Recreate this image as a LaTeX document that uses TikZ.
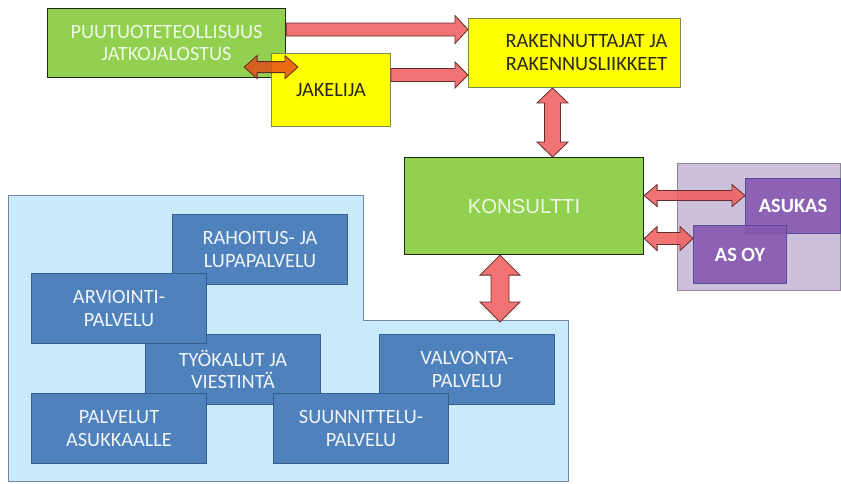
\documentclass[tikz,border=0pt]{standalone}
\usepackage{fontspec}
\setmainfont{Carlito}
\newfontfamily\arialfont{Liberation Sans}
\usetikzlibrary{calc}

\definecolor{leafgreen}{RGB}{146,208,80}
\definecolor{leafedge}{RGB}{30,40,20}
\definecolor{lemon}{RGB}{255,255,0}
\definecolor{lemonedge}{RGB}{120,140,80}
\definecolor{skyfill}{RGB}{200,234,250}
\definecolor{skyedge}{RGB}{120,135,150}
\definecolor{tileblue}{RGB}{79,129,189}
\definecolor{tileedge}{RGB}{56,93,138}
\definecolor{lilac}{RGB}{204,192,218}
\definecolor{lilacedge}{RGB}{140,135,150}
\definecolor{plum}{RGB}{135,88,178}
\definecolor{plumedge}{RGB}{90,75,150}
\definecolor{coral}{RGB}{240,96,96}
\definecolor{coraledge}{RGB}{100,45,45}
\definecolor{ember}{RGB}{230,70,20}
\definecolor{paletext}{RGB}{240,248,232}
\definecolor{darktext}{RGB}{40,40,20}

\newcommand\labelsize{\fontsize{20.3}{22.8}\selectfont}

% single fat arrow pointing right: style, from, to, shaft half, head half, head length
\newcommand\arrowR[6]{%
  \draw[#1] let \p1=#2, \p2=#3 in
    (\x1,\y1+#4) -- (\x2-#6,\y1+#4) -- (\x2-#6,\y1+#5) -- (\x2,\y1)
    -- (\x2-#6,\y1-#5) -- (\x2-#6,\y1-#4) -- (\x1,\y1-#4) -- cycle;}
% double fat arrow, horizontal: style, left end, right end, shaft half, head half, head length
\newcommand\arrowLR[6]{%
  \draw[#1] let \p1=#2, \p2=#3 in
    (\x1,\y1) -- (\x1+#6,\y1+#5) -- (\x1+#6,\y1+#4) -- (\x2-#6,\y1+#4)
    -- (\x2-#6,\y1+#5) -- (\x2,\y1) -- (\x2-#6,\y1-#5) -- (\x2-#6,\y1-#4)
    -- (\x1+#6,\y1-#4) -- (\x1+#6,\y1-#5) -- cycle;}
% double fat arrow, vertical: style, upper end, lower end (gives x), shaft half, head half, head length
\newcommand\arrowUD[6]{%
  \draw[#1] let \p1=#2, \p2=#3 in
    (\x2,\y1) -- (\x2+#5,\y1-#6) -- (\x2+#4,\y1-#6) -- (\x2+#4,\y2+#6)
    -- (\x2+#5,\y2+#6) -- (\x2,\y2) -- (\x2-#5,\y2+#6) -- (\x2-#4,\y2+#6)
    -- (\x2-#4,\y1-#6) -- (\x2-#5,\y1-#6) -- cycle;}

\tikzset{
  box/.style={anchor=north west, inner sep=0pt, align=center, font=\labelsize},
  greenbox/.style={box, fill=leafgreen, draw=leafedge, line width=1.1pt, text=paletext},
  yellowbox/.style={box, fill=lemon, draw=lemonedge, line width=0.9pt, text=darktext},
  tile/.style={box, fill=tileblue, draw=tileedge, line width=1pt, text=white!92!tileblue,
    minimum width=175pt, minimum height=70pt},
  plumbox/.style={box, fill=plum, fill opacity=0.9, text opacity=1, draw=plumedge,
    line width=1pt, text=white, font=\labelsize\bfseries},
  fatarrow/.style={fill=coral, fill opacity=0.88, draw=coraledge, line width=0.8pt, line join=miter},
  emberarrow/.style={fill=ember, fill opacity=0.8, draw=coraledge, line width=0.8pt, line join=miter},
}

\begin{document}
\begin{tikzpicture}[x=1pt,y=-1pt]
\useasboundingbox (0,0) rectangle (841,483);

% service area panel
\draw[fill=skyfill, draw=skyedge, line width=1pt]
  (8,195) -- (363,195) -- (363,320) -- (568,320) -- (568,481) -- (8,481) -- cycle;
\coordinate (dock) at (500,322);

% service tiles
\node[tile] (rahoitus) at (172,214) {RAHOITUS- JA\\LUPAPALVELU};
\node[tile] (tyokalut) at (145,334) {TYÖKALUT JA\\VIESTINTÄ};
\node[tile] (valvonta) at (379,334) {VALVONTA-\\PALVELU};
\node[tile] (arviointi) at (31,273) {ARVIOINTI-\\PALVELU};
\node[tile] (palvelut) at (31,393) {PALVELUT\\ASUKKAALLE};
\node[tile] (suunnittelu) at (273,393) {SUUNNITTELU-\\PALVELU};

% residents group
\draw[fill=lilac, draw=lilacedge, line width=1pt] (677,163) rectangle (840,290);
\node[plumbox, minimum width=95pt, minimum height=55pt] (asukas) at (745,178) {ASUKAS};
\node[plumbox, minimum width=93pt, minimum height=58pt] (asoy) at (693,225) {AS OY};

% top row
\node[greenbox, minimum width=238pt, minimum height=69pt] (wood) at (47,8)
  {PUUTUOTETEOLLISUUS\\JATKOJALOSTUS};
\node[yellowbox, minimum width=212pt, minimum height=69pt] (rak) at (468,18)
  {\hspace*{24pt}RAKENNUTTAJAT JA\\\hspace*{24pt}RAKENNUSLIIKKEET};
\node[yellowbox, minimum width=119pt, minimum height=73pt] (jak) at (271,53) {JAKELIJA};

% consultant
\node[greenbox, minimum width=239pt, minimum height=97pt, font=\labelsize\arialfont] (kon)
  at (404,157) {KONSULTTI};

% connectors
\arrowR{fatarrow}{([yshift=-21.5pt]wood.north east)}{(rak.west)}{6.5pt}{14pt}{13pt}
\arrowR{fatarrow}{([yshift=-22pt]jak.north east)}{(rak.west)}{6.5pt}{13pt}{13pt}
\arrowLR{emberarrow}{([xshift=-42pt,yshift=11pt]wood.south east)}{([xshift=27pt,yshift=-13pt]jak.north west)}{5.5pt}{11.5pt}{13pt}
\arrowUD{fatarrow}{(rak.south)}{([xshift=28.5pt]kon.north)}{8pt}{15.5pt}{15pt}
\arrowUD{fatarrow}{([xshift=-23.5pt]kon.south)}{(dock)}{9pt}{20pt}{20pt}
\arrowLR{fatarrow}{([yshift=10.5pt]kon.east)}{(asukas.west)}{5pt}{11pt}{13pt}
\arrowLR{fatarrow}{([yshift=-32.5pt]kon.east)}{(asoy.west)}{6pt}{12pt}{13pt}
\end{tikzpicture}
\end{document}
